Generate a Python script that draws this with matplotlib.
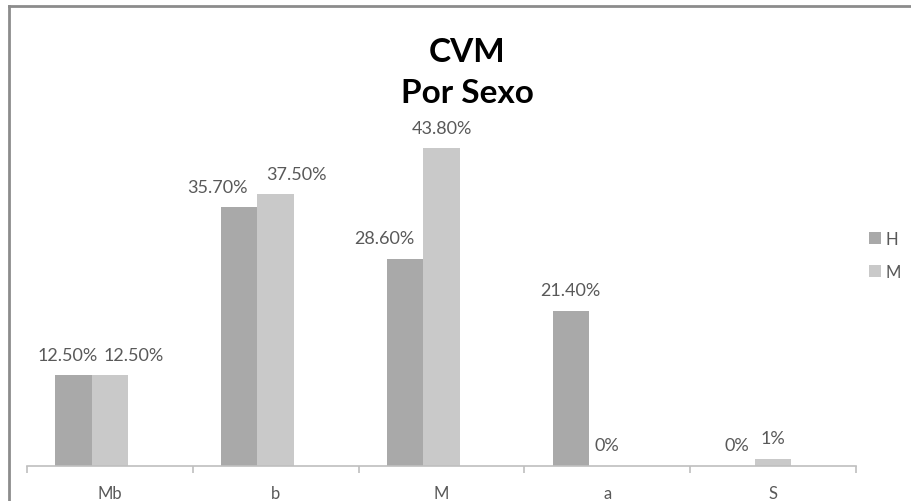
import numpy as np
import matplotlib.pyplot as plt
from matplotlib.lines import Line2D

# dados
categorias = ['Mb', 'b', 'M', 'a', 'S']
h_vals = [12.5, 35.7, 28.6, 21.4, 0.0]
m_vals = [12.5, 37.5, 43.8, 0.0, 1.0]
h_rot = ['12.50%', '35.70%', '28.60%', '21.40%', '0%']
m_rot = ['12.50%', '37.50%', '43.80%', '0%', '1%']

cor_h = '#a9a9a9'
cor_m = '#c9c9c9'
cinza_txt = '#595959'

fig = plt.figure(figsize=(9.12, 5.02), dpi=100)
fig.patch.set_facecolor('white')

# area do grafico (em pixels: x 27..856, base em y=467)
ax = fig.add_axes([27/912, 35/502, 829/912, 435/502])
x = np.arange(len(categorias))
w = 0.22
# o excel deixa espaco p/ uma 3a serie vazia, por isso o grupo fica deslocado
b1 = ax.bar(x - w, h_vals, w, color=cor_h, label='H')
b2 = ax.bar(x, m_vals, w, color=cor_m, label='M')

ax.set_xlim(-0.5, len(categorias) - 0.5)
ax.set_ylim(0, 60)

# rotulos (deslocamento lateral p/ evitar sobreposicao, como no excel)
desl_h = [-4, -16, -15, 0, 0]
desl_m = [17, 15, 0, 0, 0]
for barra, txt, d in zip(b1, h_rot, desl_h):
    ax.annotate(txt, (barra.get_x() + barra.get_width()/2, barra.get_height()),
                xytext=(d, 9), textcoords='offset points', ha='center', va='bottom',
                fontsize=13, color=cinza_txt, family='Lato')
for barra, txt, d in zip(b2, m_rot, desl_m):
    ax.annotate(txt, (barra.get_x() + barra.get_width()/2, barra.get_height()),
                xytext=(d, 9), textcoords='offset points', ha='center', va='bottom',
                fontsize=13, color=cinza_txt, family='Lato')

# eixos
for s in ['top', 'right', 'left']:
    ax.spines[s].set_visible(False)
ax.spines['bottom'].set_color('#bfbfbf')
ax.spines['bottom'].set_linewidth(1.2)
ax.set_yticks([])
ax.set_xticks(x)
ax.set_xticklabels(categorias, fontsize=12, color=cinza_txt, family='Lato')
ax.tick_params(axis='x', which='major', length=0, pad=14)
ax.set_xticks(np.arange(-0.5, len(categorias)), minor=True)
ax.tick_params(axis='x', which='minor', length=5, color='#bfbfbf', width=1.2)

# titulo
fig.text(467/912, 1 - 62/502, 'CVM', ha='center', va='baseline',
         fontsize=24, fontweight='bold', family='Lato', color='black')
fig.text(467/912, 1 - 103/502, 'Por Sexo', ha='center', va='baseline',
         fontsize=24, fontweight='bold', family='Lato', color='black')

# legenda
fig.legend(handles=[b1, b2], labels=['H', 'M'], loc='upper left',
           bbox_to_anchor=(854/912, 1 - 217/502), frameon=False,
           handlelength=0.7, handleheight=0.7, handletextpad=0.3,
           labelspacing=1.0, prop={'family': 'Lato', 'size': 12},
           labelcolor=cinza_txt)

# moldura (so topo e esquerda aparecem no recorte)
fig.add_artist(Line2D([9/912, 1], [1 - 7/502, 1 - 7/502], color='#8c8c8c', lw=2))
fig.add_artist(Line2D([9/912, 9/912], [0, 1 - 7/502], color='#8c8c8c', lw=2))

plt.savefig('out.png', dpi=100)
